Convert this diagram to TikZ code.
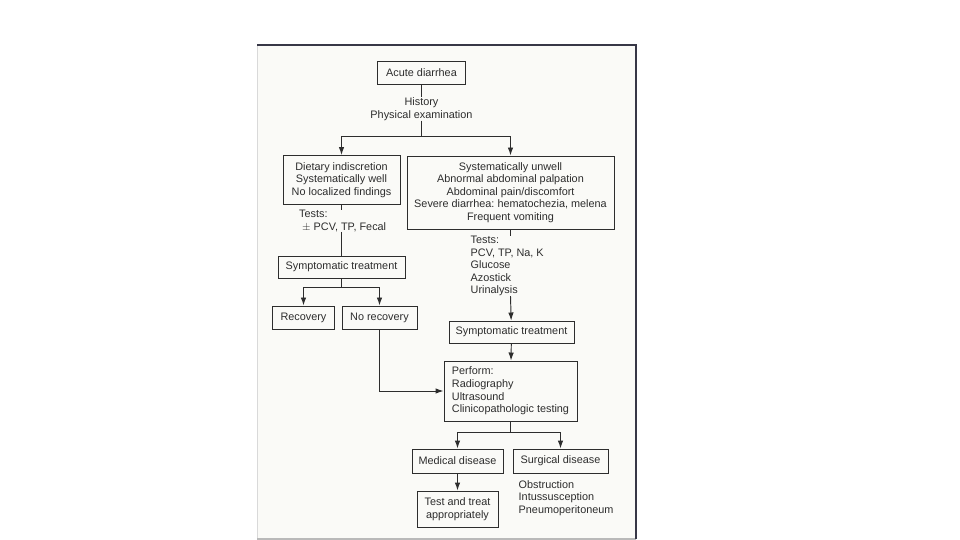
\documentclass[tikz,border=0pt]{standalone}
\usepackage{fontspec}
\setmainfont{Liberation Sans}
\usetikzlibrary{arrows.meta}
\definecolor{scanbg}{RGB}{250,250,247}
\definecolor{ink}{RGB}{45,45,45}
\definecolor{frameink}{RGB}{55,55,70}
\frenchspacing
\begin{document}
\begin{tikzpicture}[x=1bp, y=-1bp,
  fcbox/.style={rectangle, draw=ink, line width=0.95bp, inner sep=2pt, text=ink, align=center, font={\fontsize{10.9}{12.6}\selectfont}},
  fctext/.style={inner sep=0pt, text=ink, font={\fontsize{10.9}{12.6}\selectfont}},
  fcedge/.style={draw=ink, line width=0.95bp},
  fcarrow/.style={fcedge, -{Latex[length=8bp,width=5.5bp]}}
]
\useasboundingbox (0,0) rectangle (960,540);
\fill[white] (0,0) rectangle (960,540);
% scanned page
\fill[scanbg] (257,45) rectangle (636,539);
\draw[gray!30, line width=0.6bp] (257,45) -- (257,539);
\draw[gray!55, line width=1.2bp] (257,539) -- (636,539);
\draw[frameink, line width=2bp] (257,45) -- (636,45) -- (636,539);

\node[fcbox, minimum width=88bp, minimum height=23bp] (acute) at (421.5,72.5) {Acute diarrhea};
\node[fctext, align=center] (hist) at (421.5,109) {History\\Physical examination};
\coordinate (split1) at (421.5,136.5);
\node[fcbox, minimum width=117bp, minimum height=49bp] (diet) at (341.5,180) {Dietary indiscretion\\Systematically well\\No localized findings};
\node[fcbox, minimum width=207bp, minimum height=73bp] (unwell) at (510.5,192.5) {Systematically unwell\\Abnormal abdominal palpation\\Abdominal pain/discomfort\\Severe diarrhea: hematochezia, melena\\Frequent vomiting};
\node[fctext, align=left, anchor=west] (testsL) at (299,221) {Tests:\\\ $\pm$ PCV, TP, Fecal};
\node[fcbox, minimum width=127bp, minimum height=22bp] (symptL) at (341.5,267) {Symptomatic treatment};
\coordinate (split2) at (341.5,287);
\node[fcbox, minimum width=62bp, minimum height=23bp] (recov) at (303.5,317.5) {Recovery};
\node[fcbox, minimum width=75bp, minimum height=23bp] (norecov) at (379.5,317.5) {No recovery};
\node[fctext, align=left, anchor=west] (testsR) at (470.5,266) {Tests:\\PCV, TP, Na, K\\Glucose\\Azostick\\Urinalysis};
\node[fcbox, minimum width=125bp, minimum height=22bp] (symptR) at (511.5,332) {Symptomatic treatment};
\node[fcbox, align=left, minimum width=133bp, minimum height=60bp] (perform) at (510.5,391) {Perform:\\Radiography\\Ultrasound\\Clinicopathologic testing};
\coordinate (split3) at (510.5,432);
\node[fcbox, minimum width=91bp, minimum height=24bp] (medical) at (457.5,461) {Medical disease};
\node[fcbox, minimum width=95bp, minimum height=24bp] (surgical) at (560.5,461) {Surgical disease};
\node[fcbox, minimum width=81bp, minimum height=36bp] (treat) at (457.5,509) {Test and treat\\appropriately};
\node[fctext, align=left, anchor=west] (surgL) at (518.5,498) {Obstruction\\Intussusception\\Pneumoperitoneum};

\draw[fcedge] (acute) -- (hist);
\draw[fcedge] (hist) -- (split1);
\draw[fcarrow] (split1) -| (diet);
\draw[fcarrow] (split1) -| (unwell);
\draw[fcedge] (diet.south) -- (diet.south |- testsL.north);
\draw[fcedge] (diet.south |- testsL.south) -- (symptL);
\draw[fcedge] (symptL) -- (split2);
\draw[fcarrow] (split2) -| (recov);
\draw[fcarrow] (split2) -| (norecov);
\draw[fcarrow] (norecov.south) |- (perform.west);
\draw[fcedge] (unwell.south) -- (unwell.south |- testsR.north);
\draw[fcarrow] (unwell.south |- testsR.south) -- (symptR);
\draw[fcarrow] (symptR) -- (perform);
\draw[fcedge] (perform) -- (split3);
\draw[fcarrow] (split3) -| (medical);
\draw[fcarrow] (split3) -| (surgical);
\draw[fcarrow] (medical) -- (treat);
\end{tikzpicture}
\end{document}
